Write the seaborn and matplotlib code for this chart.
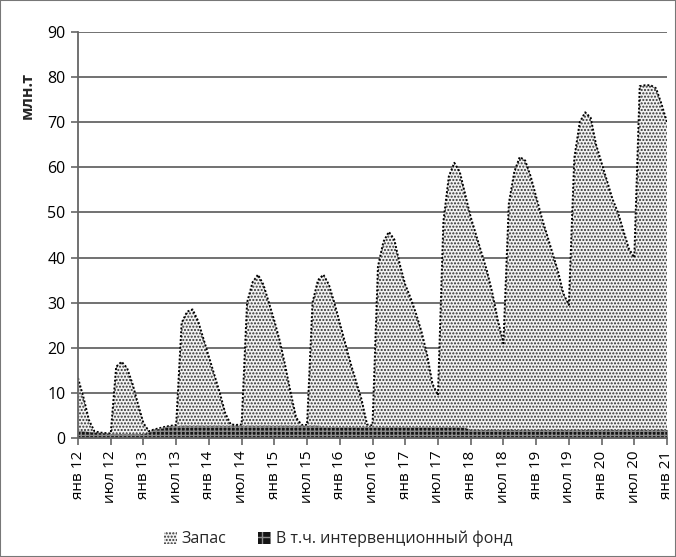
import numpy as np
import pandas as pd
import matplotlib
matplotlib.use("Agg")
import matplotlib.pyplot as plt
from matplotlib.patches import Patch, Rectangle
import seaborn as sns

# monthly stock, mln t (Jan 2012 .. Jan 2021)
STOCK_2012 = [13.3, 9.0, 4.0, 1.5, 1.2, 1.1, 1.0, 15.8, 16.9, 15.5, 12.0, 7.5]
STOCK_2013 = [3.3, 1.5, 1.9, 2.2, 2.5, 2.7, 2.9, 25.5, 28.0, 28.5, 26.0, 22.0]
STOCK_2014 = [18.0, 14.0, 10.0, 5.5, 3.0, 2.9, 3.0, 30.0, 34.5, 36.2, 34.0, 30.0]
STOCK_2015 = [26.0, 21.5, 16.0, 10.0, 4.5, 2.9, 2.9, 30.0, 35.0, 36.2, 34.0, 30.0]
STOCK_2016 = [25.5, 21.0, 16.5, 12.5, 8.5, 3.0, 2.8, 38.0, 43.5, 45.7, 44.0, 38.5]
STOCK_2017 = [34.0, 31.0, 27.5, 23.5, 18.5, 12.0, 9.5, 48.0, 58.0, 61.0, 59.0, 54.0]
STOCK_2018 = [49.0, 45.0, 41.0, 37.0, 32.0, 26.0, 21.0, 52.0, 59.0, 62.3, 61.5, 58.0]
STOCK_2019 = [53.5, 49.0, 45.0, 41.0, 37.0, 32.0, 29.5, 62.0, 70.0, 72.2, 71.0, 65.0]
STOCK_2020 = [61.0, 57.0, 53.0, 50.0, 46.0, 42.0, 40.0, 78.0, 78.2, 78.2, 77.5, 74.0]
STOCK_2021 = [70.0]

# of which intervention fund
FUND_2012 = [1.6, 1.5, 1.4, 1.3, 1.1, 1.0, 0.9, 0.9, 0.9, 0.9, 0.9, 0.9]
FUND_2013 = [1.0, 1.3, 1.7, 2.1, 2.4, 2.6, 2.7, 2.8, 2.8, 2.8, 2.8, 2.8]
FUND_2014 = [2.8, 2.8, 2.8, 2.8, 2.8, 2.8, 2.8, 2.8, 2.8, 2.8, 2.8, 2.8]
FUND_2015 = [2.8, 2.8, 2.8, 2.8, 2.8, 2.8, 2.8, 2.8, 2.8, 2.4, 2.4, 2.4]
FUND_2016 = [2.4, 2.4, 2.4, 2.4, 2.4, 2.4, 2.4, 2.4, 2.4, 2.4, 2.4, 2.4]
FUND_2017 = [2.4, 2.4, 2.4, 2.4, 2.4, 2.4, 2.4, 2.4, 2.4, 2.4, 2.4, 2.3]
FUND_2018 = [1.9, 1.9, 1.9, 1.9, 1.9, 1.9, 1.9, 1.9, 1.9, 1.9, 1.9, 1.9]
FUND_2019 = [1.9, 1.9, 1.9, 1.9, 1.9, 1.9, 1.9, 1.9, 1.9, 1.9, 1.9, 1.9]
FUND_2020 = [1.9, 1.9, 1.9, 1.9, 1.9, 1.9, 1.9, 1.9, 1.9, 1.9, 1.9, 1.9]
FUND_2021 = [1.9]

TICK_LABELS = [
    "янв 12", "июл 12", "янв 13", "июл 13", "янв 14", "июл 14",
    "янв 15", "июл 15", "янв 16", "июл 16", "янв 17", "июл 17",
    "янв 18", "июл 18", "янв 19", "июл 19", "янв 20", "июл 20", "янв 21",
]
SERIES_LABELS = ["Запас", "В т.ч. интервенционный фонд"]
Y_LABEL = "млн.т"

STOCK = (STOCK_2012 + STOCK_2013 + STOCK_2014 + STOCK_2015 + STOCK_2016
         + STOCK_2017 + STOCK_2018 + STOCK_2019 + STOCK_2020 + STOCK_2021)
FUND = (FUND_2012 + FUND_2013 + FUND_2014 + FUND_2015 + FUND_2016
        + FUND_2017 + FUND_2018 + FUND_2019 + FUND_2020 + FUND_2021)

sns.set_theme(style="white")
plt.rcParams["font.family"] = ["Open Sans", "DejaVu Sans"]
plt.rcParams["hatch.linewidth"] = 1.0

df = pd.DataFrame({"month": np.arange(len(STOCK)), "stock": STOCK, "fund": FUND})

fig = plt.figure(figsize=(6.76, 5.57), dpi=100)
ax = fig.add_axes([78 / 676, 1 - 438 / 557, (667 - 78) / 676, (438 - 32) / 557])

# stock area: dotted fill with dotted outline
ax.fill_between(df["month"], df["stock"], facecolor="#f2f2f2", hatch=".....",
                edgecolor="#303030", linewidth=0, zorder=2)
sns.lineplot(data=df, x="month", y="stock", ax=ax, color="black",
             linestyle=(0, (1, 1)), linewidth=1.4, zorder=3)

# intervention fund: dark checkered fill
ax.fill_between(df["month"], df["fund"], facecolor="#141414", linewidth=0, zorder=4)
ax.fill_between(df["month"], df["fund"], facecolor="none", hatch="++++",
                edgecolor="#8c8c8c", linewidth=0, zorder=5)

ax.set_xlim(0, len(STOCK) - 1)
ax.set_ylim(0, 90)
ax.set_yticks(np.arange(0, 91, 10))
ax.set_xticks(np.arange(0, len(STOCK), 6))
ax.set_xticklabels(TICK_LABELS, rotation=90)
ax.set_xlabel("")
ax.set_ylabel("")

ax.set_axisbelow(True)
ax.yaxis.grid(True, color="#666666", linewidth=1.3, zorder=0)
ax.xaxis.grid(False)

for side in ["top", "right"]:
    ax.spines[side].set_visible(False)
for side in ["left", "bottom"]:
    ax.spines[side].set_color("#666666")
    ax.spines[side].set_linewidth(1.3)
    ax.spines[side].set_zorder(6)

ax.tick_params(axis="both", bottom=True, left=True, direction="out", length=5,
               width=1.2, color="#666666", labelcolor="black", pad=4)
ax.tick_params(axis="x", labelsize=11)
ax.tick_params(axis="y", labelsize=11.5)

fig.text(28 / 676, 1 - 95 / 557, Y_LABEL, rotation=90, fontweight="bold",
         ha="center", va="center", fontsize=11.5)

handles = [
    Patch(facecolor="#f2f2f2", edgecolor="#303030", hatch=".....", linewidth=0),
    Patch(facecolor="#141414", edgecolor="#8c8c8c", hatch="++", linewidth=0),
]
fig.legend(handles, SERIES_LABELS, loc="center", bbox_to_anchor=(0.5, 1 - 539 / 557),
           ncol=2, frameon=False, handlelength=0.8, handleheight=0.8,
           handletextpad=0.3, columnspacing=2.0, fontsize=11.5)

fig.patches.append(Rectangle((0, 0), 1, 1, transform=fig.transFigure, fill=False,
                             edgecolor="#777777", linewidth=1.5))

fig.savefig("out.png", dpi=100)
